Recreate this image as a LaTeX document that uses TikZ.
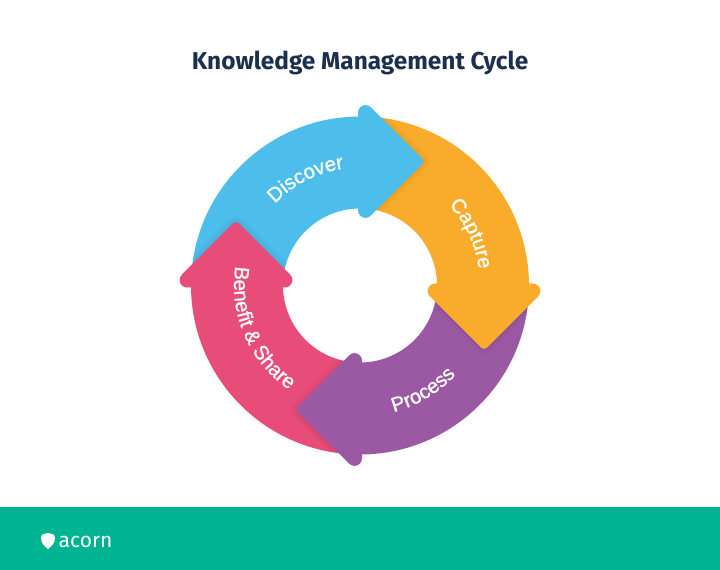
\documentclass[tikz,border=0pt]{standalone}
\usepackage{fontspec}
\setmainfont{Fira Sans}
\newfontfamily\labelfont[FakeBold=1]{Liberation Sans}
\usetikzlibrary{decorations.text}

\definecolor{discoverblue}{HTML}{4DBDEC}
\definecolor{captureorange}{HTML}{F9AC2C}
\definecolor{processpurple}{HTML}{9C59A3}
\definecolor{benefitpink}{HTML}{E84D79}
\definecolor{acorngreen}{HTML}{00B392}
\definecolor{titlenavy}{HTML}{1C2F4F}

\newcommand{\headedges}{(10.8,178.2) -- (62.17,126.83) arc[start angle=45,end angle=-45,radius=4] -- (10.8,69.8)}
\newcommand{\headoutline}{(-2,172.9) arc[start angle=180,end angle=45,radius=7.5]
    -- (62.17,126.83) arc[start angle=45,end angle=-45,radius=4]
    -- (10.8,69.8) arc[start angle=-45,end angle=-180,radius=7.5] -- cycle}

\begin{document}
\begin{tikzpicture}[x=1pt, y=1pt,
    hub/.style = {shift={(360,284.5)}},
    label/.style = {decorate, decoration={text along path, text align=center,
        text={|\labelfont\fontsize{20.3}{20}\selectfont\color{white}|#1}}}]
    \useasboundingbox (0,0) rectangle (720,570);
    \fill[white] (0,0) rectangle (720,570);
    \fill[acorngreen] (0,0) rectangle (720,63);

    \node[text=titlenavy, font=\fontsize{24.4}{26}\selectfont\bfseries] (title) at (360,507) {Knowledge Management Cycle};

    % bodies first, heads on top
    \foreach \rot/\col in {0/discoverblue, -90/captureorange, -180/processpurple, -270/benefitpink} {
        \begin{scope}[hub, rotate=\rot]
            \fill[\col] (175:169) arc[start angle=175, end angle=89, radius=169]
                -- (89:77) arc[start angle=89, end angle=175, radius=77] -- cycle;
        \end{scope}
    }
    \foreach \rot/\col in {0/discoverblue, -90/captureorange, -180/processpurple, -270/benefitpink} {
        \begin{scope}[hub, rotate=\rot]
            \begin{scope}[even odd rule]
                \clip (0,0) circle[radius=169] (0,0) circle[radius=77];
                \foreach \wid in {12,7,3} {
                    \draw[black, opacity=0.018, line width=\wid pt, line join=round] \headedges;
                }
            \end{scope}
            \fill[\col] \headoutline;
        \end{scope}
    }

    % labels
    \begin{scope}[hub]
        \path[label={Discover}] (163:118) arc[start angle=163, end angle=71, radius=118];
        \path[label={Capture}] (65:120) arc[start angle=65, end angle=-15, radius=120];
        \path[label={Process}] (-99:131) arc[start angle=-99, end angle=-19, radius=131];
        \path[label={Benefit {\&} Share}] (148.5:126) arc[start angle=148.5, end angle=258.5, radius=126];
    \end{scope}

    % logo
    \fill[white] (48,37) .. controls (45,36.5) and (41,36) .. (41,32)
        .. controls (41,26) and (45,23.5) .. (48,21)
        .. controls (51,23.5) and (55,26) .. (55,32)
        .. controls (55,36) and (51,36.5) .. (48,37);
    \node[text=white, font=\fontsize{21}{24}\selectfont, anchor=west, inner sep=0pt] (logo) at (58.5,28.5) {acorn};
\end{tikzpicture}
\end{document}
